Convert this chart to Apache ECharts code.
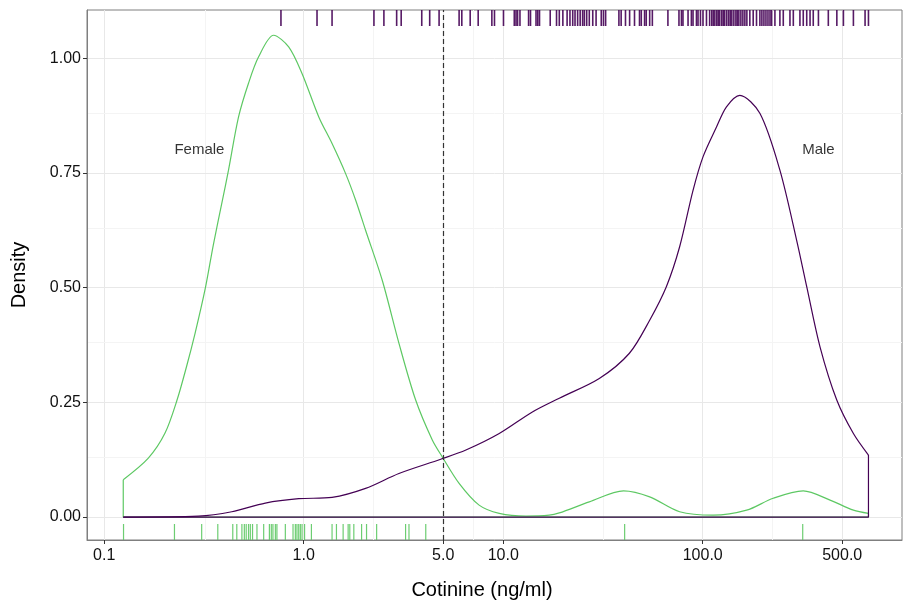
<!DOCTYPE html>
<html>
    <head>
        <title>cotinine_density</title>
        <script src="https://cdn.jsdelivr.net/npm/echarts@6/dist/echarts.min.js"></script>
        <style>
            html, body { margin: 0; padding: 0; background: #fff; }
        </style>
    </head>
    <body>
        <div id="main" style="width: 905px; height: 601px;"></div>
        <script>
            // density curves (cotinine ng/ml, density)
            var femaleX = [0.1246, 0.1664, 0.2018, 0.2318, 0.2583, 0.2856, 0.3207, 0.353, 0.3917, 0.4198, 0.4714, 0.5293, 0.5942, 0.7063, 0.8407, 0.9806, 1.19, 1.387, 1.62, 1.82, 2.042, 2.475, 3.0, 3.64, 4.41, 4.95, 6.01, 7.57, 9.55, 13.0, 17.0, 19.1, 27.0, 40.1, 54.2, 76.6, 112.6, 166, 225.5, 319, 434.5, 569, 677];
            var femaleY = [0.0815, 0.1285, 0.183, 0.255, 0.327, 0.401, 0.497, 0.595, 0.691, 0.756, 0.872, 0.946, 1.003, 1.050, 1.0246, 0.9667, 0.872, 0.814, 0.749, 0.691, 0.625, 0.516, 0.379, 0.255, 0.168, 0.131, 0.0734, 0.026, 0.008, 0.002, 0.004, 0.009, 0.033, 0.057, 0.044, 0.0115, 0.004, 0.015, 0.041, 0.057, 0.037, 0.015, 0.008];
            var maleX = [0.1246, 0.2968, 0.436, 0.642, 0.944, 1.387, 2.042, 3.0, 4.86, 6.5, 9.55, 14.0, 19.1, 30.3, 42.9, 54.2, 65.7, 76.6, 89.4, 100.3, 117.2, 131.5, 153.4, 193.3, 243.6, 295.6, 332, 387, 469.6, 569, 677];
            var maleY = [0.0, 0.002, 0.0115, 0.0305, 0.040, 0.043, 0.0625, 0.095, 0.126, 0.146, 0.182, 0.229, 0.259, 0.302, 0.357, 0.429, 0.502, 0.589, 0.712, 0.785, 0.850, 0.894, 0.919, 0.880, 0.756, 0.603, 0.502, 0.371, 0.255, 0.182, 0.135];

            // rug observations
            var femaleRug = [0.125, 0.225, 0.308, 0.371, 0.441, 0.462, 0.490, 0.504, 0.515, 0.529, 0.540, 0.554, 0.583, 0.630, 0.673, 0.688, 0.701, 0.721, 0.734, 0.809, 0.884, 0.908, 0.925, 0.944, 0.962, 0.981, 1.01, 1.093, 1.387, 1.459, 1.576, 1.670, 1.702, 1.783, 1.95, 2.065, 2.32, 3.24, 3.37, 4.09, 40.6, 317];
            var maleRug = [0.769, 1.166, 1.387, 2.249, 2.523, 2.923, 3.08, 3.905, 4.28, 4.77, 6.01, 6.20, 6.83, 7.49, 8.77, 9.04, 10.03, 11.36, 11.59, 11.80, 12.13, 13.4, 13.7, 14.6, 14.9, 15.2, 17.2, 18.5, 19.1, 19.9, 20.9, 21.6, 22.3, 22.9, 23.6, 24.3, 25.0, 25.5, 26.2, 27.0, 28.1, 29.2, 31.0, 31.8, 32.6, 38.0, 39.0, 41.0, 43.0, 45.5, 48.2, 49.2, 51.1, 52.1, 54.2, 55.9, 66.9, 76.0, 78.2, 79.6, 84.4, 87.7, 89.4, 93.0, 94.7, 97.4, 100.3, 104.4, 108.3, 111, 113, 115, 117.6, 119.6, 121.7, 124.6, 126.8, 128.9, 132, 135, 137.5, 139.9, 143.2, 146.6, 149, 151.7, 155.3, 158.9, 162.6, 166.4, 172.2, 179, 186, 193.4, 197.9, 202.6, 207.4, 212.3, 217.3, 221.4, 230, 243.6, 253.3, 273.6, 284.4, 307, 319, 332, 345, 358, 380, 426, 470, 507, 569, 651, 677];

            var xTicks = [0.1, 1, 5, 10, 100, 500];
            var xMinor = [0.316, 2.236, 7.07, 31.6, 223.6];
            var yTicks = [0, 0.25, 0.5, 0.75, 1.0];
            var yMinor = [0.125, 0.375, 0.625, 0.875];
            var cutoff = 5;
            var labels = [[0.3, 0.8, 'Female'], [380, 0.8, 'Male']];

            var femaleColor = '#5DC863';
            var maleColor = '#440154';

            function curve(xs, ys) {
                return xs.map(function (x, i) { return [x, ys[i]]; });
            }
            // closing edges of the density polygon: left drop, baseline, right drop
            function outline(xs, ys) {
                var n = xs.length - 1;
                return [[xs[0], ys[0]], [xs[0], 0], [xs[n], 0], [xs[n], ys[n]]];
            }
            function rug(color, top, width) {
                return function (params, api) {
                    var x = api.coord([api.value(0), 0])[0];
                    var cs = params.coordSys;
                    var y0 = top ? cs.y : cs.y + cs.height;
                    var y1 = top ? y0 + 16 : y0 - 16;
                    return {
                        type: 'line',
                        shape: { x1: x, y1: y0, x2: x, y2: y1 },
                        style: { stroke: color, lineWidth: width, opacity: 0.9 }
                    };
                };
            }

            var gridLines = [];
            xTicks.forEach(function (v) { gridLines.push({ xAxis: v, lineStyle: { color: '#e8e8e8', width: 1, type: 'solid' } }); });
            xMinor.forEach(function (v) { gridLines.push({ xAxis: v, lineStyle: { color: '#f4f4f4', width: 1, type: 'solid' } }); });
            yTicks.forEach(function (v) { gridLines.push({ yAxis: v, lineStyle: { color: '#e8e8e8', width: 1, type: 'solid' } }); });
            yMinor.forEach(function (v) { gridLines.push({ yAxis: v, lineStyle: { color: '#f4f4f4', width: 1, type: 'solid' } }); });

            var font = 'Liberation Sans, Arial, sans-serif';
            var myChart = echarts.init(document.getElementById('main'));
            var option = {
                animation: false,
                backgroundColor: '#fff',
                // x axis title, placed under the tick labels
                title: {
                    text: 'Cotinine (ng/ml)',
                    left: 482, top: 573, textAlign: 'center', padding: 0,
                    textStyle: { fontSize: 20, fontWeight: 'normal', color: '#000', fontFamily: font }
                },
                grid: {
                    left: 87, right: 3, top: 10, bottom: 61, show: true,
                    borderColor: '#7f7f7f', borderWidth: 1,
                    containLabel: false, outerBoundsMode: 'none'
                },
                xAxis: {
                    type: 'log',
                    logBase: 10,
                    min: 0.082,
                    max: 997,
                    axisLine: { show: true, onZero: false, lineStyle: { color: '#7f7f7f', width: 1 } },
                    axisTick: { show: true, customValues: xTicks, length: 4, lineStyle: { color: '#333' } },
                    axisLabel: {
                        customValues: xTicks, fontSize: 16, color: '#111', fontFamily: font, margin: 2,
                        formatter: function (v) { return Number(v).toFixed(1); }
                    },
                    splitLine: { show: false },
                    minorSplitLine: { show: false }
                },
                yAxis: {
                    type: 'value',
                    min: -0.05,
                    max: 1.105,
                    name: 'Density',
                    nameLocation: 'middle',
                    nameGap: 50,
                    nameTextStyle: { fontSize: 20, color: '#000', fontFamily: font },
                    axisLine: { show: true, onZero: false, lineStyle: { color: '#7f7f7f', width: 1 } },
                    axisTick: { show: true, customValues: yTicks, length: 4, lineStyle: { color: '#333' } },
                    axisLabel: {
                        customValues: yTicks, fontSize: 16, color: '#111', fontFamily: font, margin: 6,
                        formatter: function (v) { return Number(v).toFixed(2); }
                    },
                    splitLine: { show: false }
                },
                series: [
                    {
                        name: 'grid', type: 'line', data: [[1, 0]], symbol: 'none', silent: true,
                        lineStyle: { opacity: 0 }, z: 0,
                        markLine: { silent: true, z: 0, symbol: 'none', label: { show: false }, animation: false, data: gridLines }
                    },
                    {
                        name: 'Female', type: 'line', data: curve(femaleX, femaleY), symbol: 'none',
                        smooth: 0.3, lineStyle: { color: femaleColor, width: 1.2 }, z: 6
                    },
                    {
                        name: 'Female edge', type: 'line', data: outline(femaleX, femaleY), symbol: 'none',
                        lineStyle: { color: femaleColor, width: 1.2 }, z: 6
                    },
                    {
                        name: 'Male', type: 'line', data: curve(maleX, maleY), symbol: 'none',
                        smooth: 0.3, lineStyle: { color: maleColor, width: 1.2 }, z: 7
                    },
                    {
                        name: 'Male edge', type: 'line', data: outline(maleX, maleY), symbol: 'none',
                        lineStyle: { color: maleColor, width: 1.2 }, z: 7,
                        markLine: {
                            silent: true, z: 8, symbol: 'none', label: { show: false }, animation: false,
                            data: [{ xAxis: cutoff, lineStyle: { color: '#333', width: 1.2, type: [5, 3] } }]
                        }
                    },
                    {
                        name: 'Female rug', type: 'custom', renderItem: rug(femaleColor, false, 1.2),
                        data: femaleRug.map(function (v) { return [v, 0]; }), encode: { x: 0, y: 1 }, z: 8
                    },
                    {
                        name: 'Male rug', type: 'custom', renderItem: rug(maleColor, true, 1.6),
                        data: maleRug.map(function (v) { return [v, 0]; }), encode: { x: 0, y: 1 }, z: 8
                    },
                    {
                        name: 'labels', type: 'scatter', data: labels, symbolSize: 0, silent: true, z: 9,
                        label: {
                            show: true, position: 'inside', fontSize: 15, color: '#000', fontFamily: font,
                            formatter: function (p) { return p.value[2]; }
                        }
                    }
                ]
            };
            myChart.setOption(option);
        </script>
    </body>
</html>
